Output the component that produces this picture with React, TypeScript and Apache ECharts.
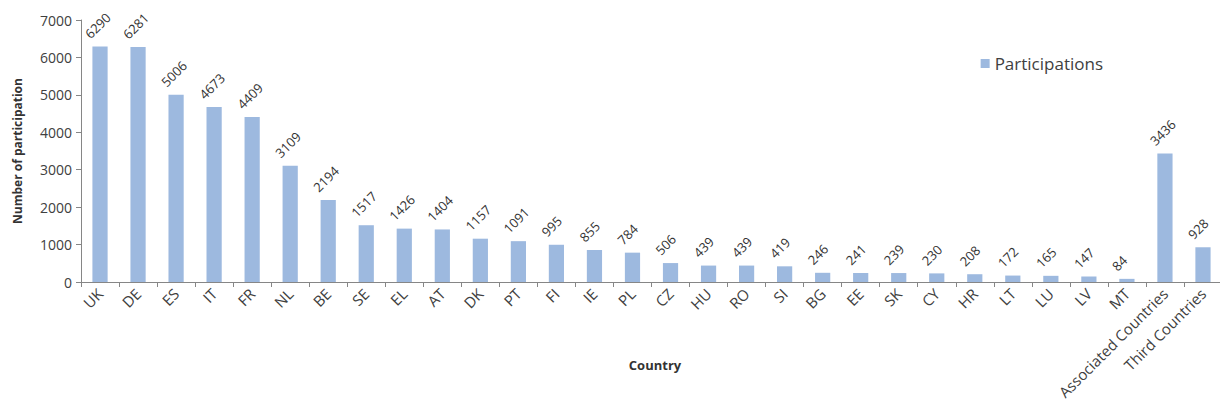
import React, { useEffect, useRef } from "react";
import * as echarts from "echarts";

const categories = ["UK","DE","ES","IT","FR","NL","BE","SE","EL","AT","DK","PT","FI","IE","PL","CZ","HU","RO","SI","BG","EE","SK","CY","HR","LT","LU","LV","MT","Associated Countries","Third Countries"];
const participations = [6290,6281,5006,4673,4409,3109,2194,1517,1426,1404,1157,1091,995,855,784,506,439,439,419,246,241,239,230,208,172,165,147,84,3436,928];
const yTicks = [0,1000,2000,3000,4000,5000,6000,7000];
const xAxisTitle = "Country";

export default function App() {
  const ref = useRef<HTMLDivElement>(null);
  useEffect(() => {
    const chart = echarts.init(ref.current!, null, { renderer: "svg" });
    const font = "'Open Sans', 'Noto Sans', sans-serif";
    chart.setOption({
      animation: false,
      textStyle: { fontFamily: font },
      legend: {
        data: ["Participations"],
        right: 112,
        top: 42,
        icon: "rect",
        itemWidth: 9,
        itemHeight: 9,
        itemGap: 6,
        textStyle: { fontSize: 17, color: "#404040", fontFamily: font },
      },
      graphic: [
        {
          type: "text",
          x: 647,
          y: 357,
          style: {
            text: xAxisTitle,
            fontFamily: font,
            fontSize: 13,
            fontWeight: "bold",
            fill: "#333",
            align: "center",
            verticalAlign: "middle",
          },
        },
      ],
      grid: { left: 73, right: -2, top: 12, bottom: 120, containLabel: false, outerBoundsMode: "none" },
      xAxis: {
        type: "category",
        data: categories,
        axisLine: { lineStyle: { color: "#868686" } },
        axisTick: { show: true, alignWithLabel: false, length: 5, lineStyle: { color: "#868686" } },
        axisLabel: { rotate: 45, fontSize: 15, color: "#404040", interval: 0, margin: 9 },
      },
      yAxis: {
        type: "value",
        min: 0,
        max: 7000,
        interval: 1000,
        name: "Number of participation",
        nameLocation: "middle",
        nameGap: 58,
        nameTextStyle: { fontWeight: "bold", fontSize: 12, color: "#333" },
        axisLine: { show: true, lineStyle: { color: "#868686" } },
        axisTick: { show: true, length: 5, lineStyle: { color: "#868686" } },
        splitLine: { show: false },
        axisLabel: {
          fontSize: 14,
          color: "#404040",
          margin: 9,
          formatter: (v: number) => (yTicks.includes(v) ? String(v) : ""),
        },
      },
      series: [
        {
          name: "Participations",
          type: "bar",
          data: participations,
          barWidth: "40%",
          itemStyle: { color: "#9DB9DF" },
          label: {
            show: true,
            position: "top",
            rotate: 45,
            align: "left",
            verticalAlign: "middle",
            distance: 2,
            offset: [-3, -15],
            fontSize: 13,
            color: "#333",
          },
        },
      ],
    });
    return () => chart.dispose();
  }, []);
  return <div ref={ref} style={{ width: 1212, height: 394 }} />;
}
